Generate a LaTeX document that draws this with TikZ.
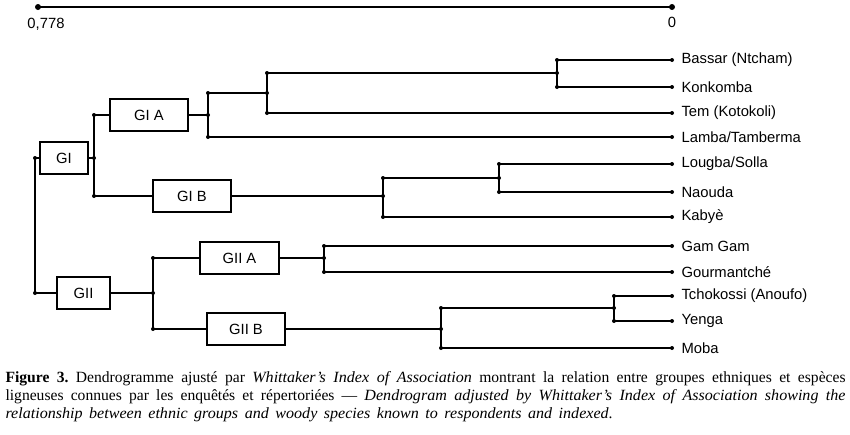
\documentclass[tikz,border=0pt]{standalone}
\usepackage{fontspec}
\setmainfont{Liberation Sans}
\newfontfamily\capfont[ItalicFeatures={FakeStretch=1.03}]{Liberation Serif}

\begin{document}
\begin{tikzpicture}[x=1pt,y=-1pt,line width=1.1pt,
    grp/.style={draw,minimum height=32pt,inner sep=0pt,font=\fontsize{14.8}{17}\selectfont},
    leaf/.style={anchor=west,inner sep=0pt,xshift=9pt,font=\fontsize{14.8}{17}\selectfont}]
    \useasboundingbox (0,0) rectangle (850,434);
    % scale bar
    \coordinate (smax) at (38,7);
    \coordinate (smin) at (672,7);
    \draw (smax) -- (smin);
    \fill (smax) circle (3pt);
    \fill (smin) circle (3pt);
    \node[font=\fontsize{14.8}{17}\selectfont] (lmax) at (46,24) {0,778};
    \node[font=\fontsize{14.8}{17}\selectfont] (lmin) at (672,22) {0};
    % leaves
    \foreach \n/\y/\t in {bas/60/Bassar (Ntcham),kon/87/Konkomba,tem/113/Tem (Kotokoli),
        lam/137/Lamba\slash Tamberma,lou/164/Lougba\slash Solla,nao/192/Naouda,kab/217/Kabyè,
        gam/246/Gam Gam,gou/272/Gourmantché,tch/296/Tchokossi (Anoufo),yen/321/Yenga,mob/348/Moba}{
      \coordinate (\n) at (672,\y);
      \fill (\n) circle (2pt);
      \node[leaf] (t\n) at (\n) {\t};
    }
    % groups
    \node[grp,minimum width=48pt] (GI) at (64,158) {GI};
    \node[grp,minimum width=78pt] (GIA) at (149,115) {GI A};
    \node[grp,minimum width=78pt] (GIB) at (192,196) {GI B};
    \node[grp,minimum width=53pt] (GII) at (83.5,293) {GII};
    \node[grp,minimum width=79pt] (GIIA) at (239.5,258) {GII A};
    \node[grp,minimum width=78pt] (GIIB) at (246,329) {GII B};
    % joints
    \coordinate (root) at (35,225);
    \coordinate (jGI) at (94,158);
    \coordinate (jA1) at (208,115);
    \coordinate (jA2) at (267,93);
    \coordinate (jBK) at (557,73);
    \coordinate (jB1) at (383,196);
    \coordinate (jB2) at (499,178);
    \coordinate (jII) at (153,293);
    \coordinate (jIIA) at (324,258);
    \coordinate (jIIB) at (441,329);
    \coordinate (jTY) at (614,308);
    % branches
    \draw (GI.west) -| (root);
    \draw (GII.west) -| (root);
    \draw (GI.east) -- (jGI);
    \draw (GIA.west) -| (jGI);
    \draw (GIB.west) -| (jGI);
    \draw (GIA.east) -- (jA1);
    \draw (jA2) -| (jA1);
    \draw (lam) -| (jA1);
    \draw (jBK) -| (jA2);
    \draw (tem) -| (jA2);
    \draw (bas) -| (jBK);
    \draw (kon) -| (jBK);
    \draw (GIB.east) -- (jB1);
    \draw (jB2) -| (jB1);
    \draw (kab) -| (jB1);
    \draw (lou) -| (jB2);
    \draw (nao) -| (jB2);
    \draw (GII.east) -- (jII);
    \draw (GIIA.west) -| (jII);
    \draw (GIIB.west) -| (jII);
    \draw (GIIA.east) -- (jIIA);
    \draw (gam) -| (jIIA);
    \draw (gou) -| (jIIA);
    \draw (GIIB.east) -- (jIIB);
    \draw (jTY) -| (jIIB);
    \draw (mob) -| (jIIB);
    \draw (tch) -| (jTY);
    \draw (yen) -| (jTY);
    % dots
    \foreach \p in {GI -| root,GII -| root,jGI,GIA -| jGI,GIB -| jGI,jA1,jA2 -| jA1,lam -| jA1,
        jA2,jBK -| jA2,tem -| jA2,jBK,bas -| jBK,kon -| jBK,jB1,jB2 -| jB1,kab -| jB1,
        jB2,lou -| jB2,nao -| jB2,jII,GIIA -| jII,GIIB -| jII,jIIA,gam -| jIIA,gou -| jIIA,
        jIIB,jTY -| jIIB,mob -| jIIB,jTY,tch -| jTY,yen -| jTY}
      \fill (\p) circle (2pt);
    % caption
    \node[anchor=north west,inner sep=0pt,align=left,font=\capfont\fontsize{15.6}{17.8}\selectfont\frenchspacing] (cap) at (5,371) {%
      \makebox[840pt][s]{\textbf{Figure 3.} Dendrogramme ajusté par \textit{Whittaker’s Index of Association} montrant la relation entre groupes ethniques et espèces}\\
      \makebox[840pt][s]{ligneuses connues par les enquêtés et répertoriées — \textit{Dendrogram adjusted by Whittaker’s Index of Association showing the}}\\
      \makebox[607pt][s]{\textit{relationship between ethnic groups and woody species known to respondents and indexed}.}};
  \end{tikzpicture}
\end{document}
